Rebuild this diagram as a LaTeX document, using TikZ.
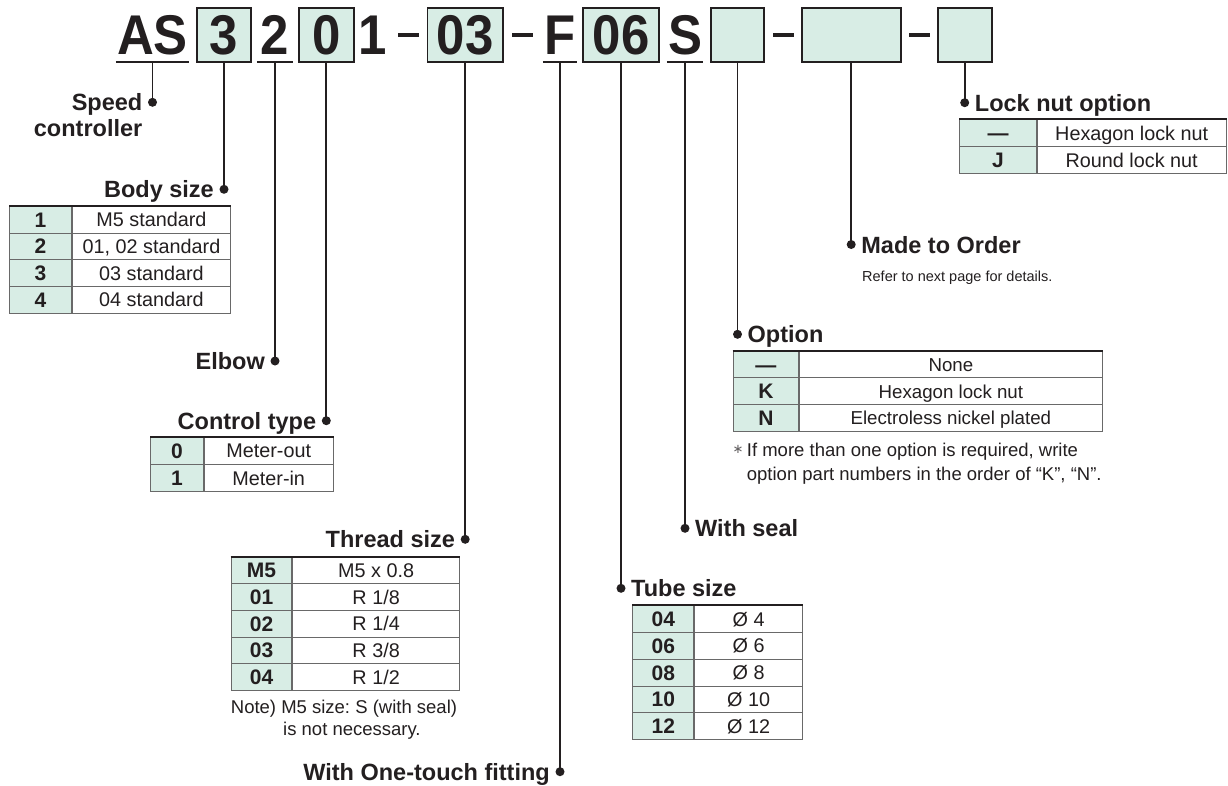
\documentclass[tikz,border=0pt]{standalone}
\usepackage{fontspec}
\setmainfont{Liberation Sans}
\newfontfamily\codefont[FakeStretch=0.91]{Liberation Sans}
\newfontfamily\symfont{DejaVu Sans}
\usetikzlibrary{positioning}
\definecolor{ink}{RGB}{35,31,32}
\definecolor{mint}{RGB}{216,237,229}
\definecolor{rulegray}{RGB}{105,105,105}
\frenchspacing

\begin{document}
\begin{tikzpicture}[x=1pt, y=-1pt,
  pncode/.style={inner sep=0pt, minimum height=54pt, text=ink,
                 font=\codefont\bfseries\fontsize{56}{56}\selectfont},
  codebox/.style={pncode, draw=ink, line width=1.8pt, fill=mint},
  hyph/.style={rectangle, fill=ink, inner sep=0pt, minimum width=21pt, minimum height=3.5pt},
  uline/.style={ink, line width=1.6pt},
  conn/.style={ink, line width=1.9pt},
  dotmark/.style={circle, fill=ink, inner sep=0pt, minimum size=9pt},
  lbl/.style={text=ink, inner sep=0pt, font=\bfseries\fontsize{23.5}{26}\selectfont},
  lblL/.style={lbl, anchor=base east, xshift=-10pt, yshift=-8.5pt},
  lblR/.style={lbl, anchor=base west, xshift=10pt, yshift=-8.5pt},
  keycell/.style={draw=rulegray, line width=1pt, fill=mint, inner sep=0pt, text=ink,
                  text height=15pt, text depth=0pt,
                  font=\bfseries\fontsize{21}{21}\selectfont},
  valcell/.style={draw=rulegray, line width=1pt, fill=white, inner sep=0pt, text=ink,
                  text height=14.2pt, text depth=0pt,
                  font=\fontsize{19.8}{19.8}\selectfont},
  smallval/.style={text height=13.5pt, font=\fontsize{18.7}{18.7}\selectfont},
  topline/.style={ink, line width=2pt},
  notetxt/.style={text=ink, inner sep=0pt, anchor=base west, font=\fontsize{18.5}{22}\selectfont}
]
  \fill[white] (0,0) rectangle (1228,785);
  \useasboundingbox (0,0) rectangle (1228,785);

  % part number
  \node[pncode, minimum width=73pt] (c-as) at (152.5,35) {AS};
  \node[codebox, minimum width=54pt] (c-size) at (224,35) {3};
  \node[pncode, minimum width=36pt] (c-elb) at (275,35) {2};
  \node[codebox, minimum width=54.6pt] (c-ctl) at (326.3,35) {0};
  \node[pncode] (c-one) at (373,35) {1};
  \node[hyph] (h-1) at (408.5,35) {};
  \node[codebox, minimum width=75.5pt] (c-thr) at (465.2,35) {03};
  \node[hyph] (h-2) at (522.7,35) {};
  \node[pncode, minimum width=34pt] (c-fit) at (560,35) {F};
  \node[codebox, minimum width=76pt] (c-tube) at (621,35) {06};
  \node[pncode, minimum width=36pt] (c-seal) at (685,35) {S};
  \node[codebox, minimum width=53pt] (c-opt) at (737.5,35) {};
  \node[hyph] (h-3) at (783,35) {};
  \node[codebox, minimum width=99pt] (c-mto) at (851.2,35) {};
  \node[hyph] (h-4) at (919.5,35) {};
  \node[codebox, minimum width=54pt] (c-lock) at (964.7,35) {};
  \foreach \u in {c-as, c-elb, c-fit, c-seal}
    \draw[uline] (\u.south west) -- (\u.south east);

  % dots and connectors
  \node[dotmark] (d-as) at (c-as.south |- 0,102.3) {};
  \node[dotmark] (d-size) at (c-size.south |- 0,189.3) {};
  \node[dotmark] (d-elb) at (c-elb.south |- 0,361) {};
  \node[dotmark] (d-ctl) at (c-ctl.south |- 0,420.7) {};
  \node[dotmark] (d-thr) at (c-thr.south |- 0,539.3) {};
  \node[dotmark] (d-fit) at (c-fit.south |- 0,771.7) {};
  \node[dotmark] (d-tube) at (c-tube.south |- 0,588.3) {};
  \node[dotmark] (d-seal) at (c-seal.south |- 0,528.3) {};
  \node[dotmark] (d-opt) at (c-opt.south |- 0,334.3) {};
  \node[dotmark] (d-mto) at (c-mto.south |- 0,244.5) {};
  \node[dotmark] (d-lock) at (c-lock.south |- 0,102.7) {};
  \foreach \p in {as, size, elb, ctl, thr, fit, tube, seal, opt, mto, lock}
    \draw[conn] (c-\p.south) -- (d-\p.center);

  % labels
  \node[lblL] (t-speed) at (d-as) {Speed};
  \node[lbl, anchor=base east] (t-ctrl) at ([yshift=-25.7pt]t-speed.base east) {controller};
  \node[lblL] (t-size) at (d-size) {Body size};
  \node[lblL] (t-elb) at (d-elb) {Elbow};
  \node[lblL] (t-ctl) at (d-ctl) {Control type};
  \node[lblL] (t-thr) at (d-thr) {Thread size};
  \node[lblL] (t-fit) at (d-fit) {With One-touch fitting};
  \node[lblR] (t-tube) at (d-tube) {Tube size};
  \node[lblR] (t-seal) at (d-seal) {With seal};
  \node[lblR] (t-opt) at (d-opt) {Option};
  \node[lblR] (t-mto) at (d-mto) {Made to Order};
  \node[notetxt, font=\fontsize{14.5}{17}\selectfont] (n-mto) at (862,281) {Refer to next page for details.};
  \node[lblR] (t-lock) at (d-lock) {Lock nut option};

  % body size table
  \foreach \k/\v [count=\i] in {1/M5 standard, 2/{01, 02 standard}, 3/03 standard, 4/04 standard}{
    \node[keycell, minimum width=61.4pt, minimum height=26.75pt, anchor=north west] (bs-k\i) at (9.3,179+26.75*\i) {\k};
    \node[valcell, minimum width=158.6pt, minimum height=26.75pt, right=0pt of bs-k\i] (bs-v\i) {\v};
  }
  \draw[topline] (bs-k1.north west) -- (bs-v1.north east);

  % control type table
  \foreach \k/\v [count=\i] in {0/Meter-out, 1/Meter-in}{
    \node[keycell, minimum width=52.7pt, minimum height=27.4pt, anchor=north west] (ct-k\i) at (150,409.1+27.4*\i) {\k};
    \node[valcell, minimum width=129pt, minimum height=27.4pt, right=0pt of ct-k\i] (ct-v\i) {\v};
  }
  \draw[topline] (ct-k1.north west) -- (ct-v1.north east);

  % thread size table
  \foreach \k/\v [count=\i] in {M5/{M5 x 0.8}, 01/{R 1/8}, 02/{R 1/4}, 03/{R 3/8}, 04/{R 1/2}}{
    \node[keycell, minimum width=60.6pt, minimum height=26.7pt, anchor=north west] (th-k\i) at (230.7,529.8+26.7*\i) {\k};
    \node[valcell, minimum width=166.7pt, minimum height=26.7pt, right=0pt of th-k\i] (th-v\i) {\v};
  }
  \draw[topline] (th-k1.north west) -- (th-v1.north east);
  \node[notetxt] (n-thr1) at (230.7,713) {Note) M5 size: S (with seal)};
  \node[notetxt] (n-thr2) at (283,735) {is not necessary.};

  % tube size table
  \foreach \k/\v [count=\i] in {04/Ø 4, 06/Ø 6, 08/Ø 8, 10/Ø 10, 12/Ø 12}{
    \node[keycell, minimum width=61pt, minimum height=26.86pt, anchor=north west] (tb-k\i) at (632.3,578.1+26.86*\i) {\k};
    \node[valcell, minimum width=107.7pt, minimum height=26.86pt, right=0pt of tb-k\i] (tb-v\i) {\v};
  }
  \draw[topline] (tb-k1.north west) -- (tb-v1.north east);

  % option table
  \foreach \k/\v [count=\i] in {—/None, K/Hexagon lock nut, N/Electroless nickel plated}{
    \node[keycell, minimum width=65.3pt, minimum height=26.77pt, anchor=north west] (op-k\i) at (732.7,323.9+26.77*\i) {\k};
    \node[valcell, smallval, minimum width=302.7pt, minimum height=26.77pt, right=0pt of op-k\i] (op-v\i) {\v};
  }
  \draw[topline] (op-k1.north west) -- (op-v1.north east);
  \node[notetxt, font=\symfont\fontsize{13}{13}\selectfont, text=ink!70] (n-star) at (732.5,453) {∗};
  \node[notetxt] (n-opt1) at (746.7,456) {If more than one option is required, write};
  \node[notetxt] (n-opt2) at (746.7,480) {option part numbers in the order of “K”, “N”.};

  % lock nut table
  \foreach \k/\v [count=\i] in {—/Hexagon lock nut, J/Round lock nut}{
    \node[keycell, minimum width=76.4pt, minimum height=27pt, anchor=north west] (ln-k\i) at (959.3,92.3+27*\i) {\k};
    \node[valcell, minimum width=189pt, minimum height=27pt, right=0pt of ln-k\i] (ln-v\i) {\v};
  }
  \draw[topline] (ln-k1.north west) -- (ln-v1.north east);
\end{tikzpicture}
\end{document}
